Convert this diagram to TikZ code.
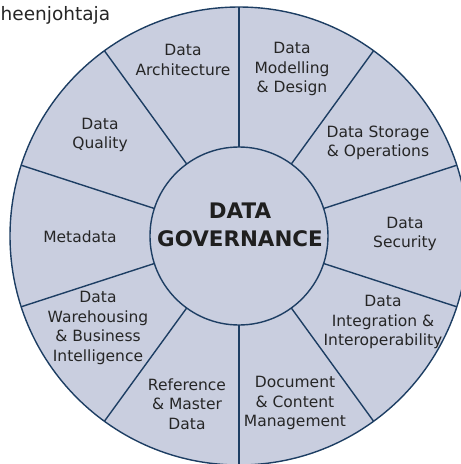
\documentclass[tikz,border=0pt]{standalone}
\usepackage{fontspec}
\setmainfont{DejaVu Sans}
\usetikzlibrary{positioning}
\definecolor{wheelfill}{HTML}{C9CEDF}
\definecolor{wheelline}{HTML}{1D3E63}
\definecolor{labeltext}{HTML}{262626}

\begin{document}
\begin{tikzpicture}[x=1pt, y=1pt,
        spoke/.style={draw=wheelline, line width=1.4pt},
        area/.style={align=center, inner sep=0pt, text=labeltext,
            font=\fontsize{15.5}{19.5}\selectfont},
        hub/.style={align=center, inner sep=0pt, text=black!88,
            font=\fontsize{21.4}{28}\selectfont\bfseries}]
    \useasboundingbox (-239,-228) rectangle (222,236);
    \fill[wheelfill] (0,0) circle (229);
    \foreach \a in {18,54,...,342}
        \draw[spoke] (\a:89) -- (\a:229);
    \draw[spoke] (0,0) circle (229);
    \filldraw[spoke, fill=wheelfill] (0,0) circle (89);
    \node[hub] (governance) at (1,11) {DATA\\GOVERNANCE};
    \node[area] (architecture) at (-56,176) {Data\\Architecture};
    \node[area] (modelling) at (53,167) {Data\\Modelling\\\& Design};
    \node[area] (storage) at (139,93) {Data Storage\\\& Operations};
    \node[area] (security) at (166,2) {Data\\Security};
    \node[area] (integration) at (144,-86) {Data\\Integration \&\\Interoperability};
    \node[area] (document) at (56,-167) {Document\\\& Content\\Management};
    \node[area] (reference) at (-52,-168) {Reference\\\& Master\\Data};
    \node[area] (warehousing) at (-141,-92) {Data\\Warehousing\\\& Business\\Intelligence};
    \node[area] (metadata) at (-159,-1) {Metadata};
    \node[area] (quality) at (-139,101) {Data\\Quality};
    \node[area, anchor=base west, font=\fontsize{18.5}{22}\selectfont] (caption) at (-238.5,215) {heenjohtaja};
\end{tikzpicture}
\end{document}
